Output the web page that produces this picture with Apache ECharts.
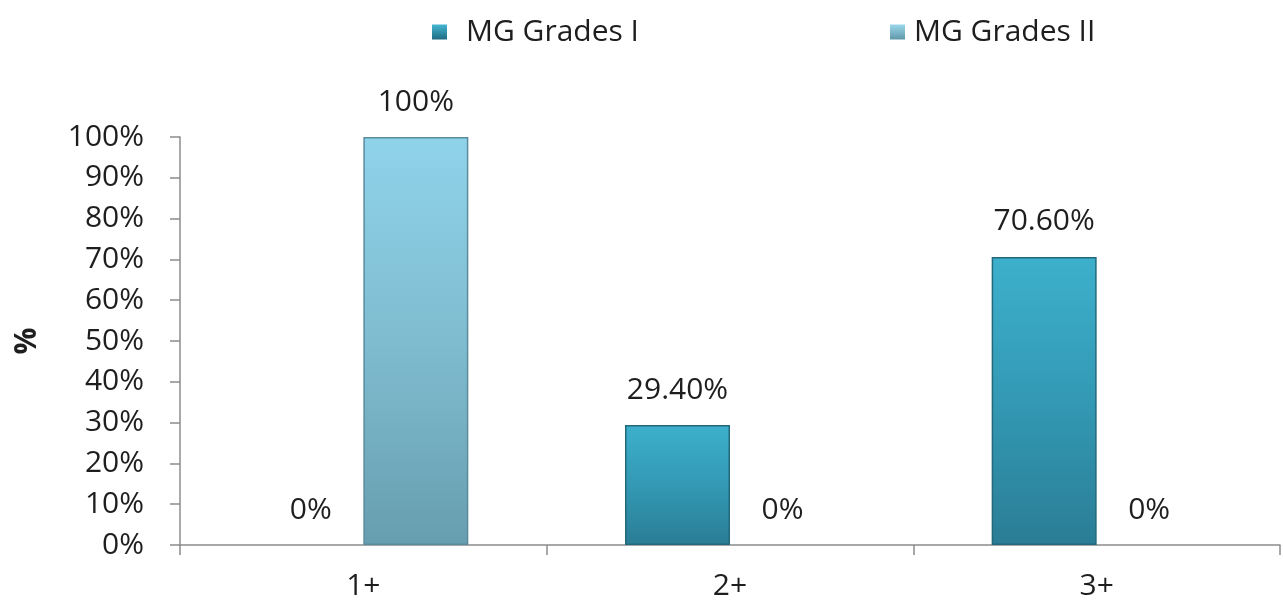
<!DOCTYPE html>
<html><head><meta charset="utf-8">
<script src="https://cdn.jsdelivr.net/npm/echarts@6/dist/echarts.min.js"></script>
<style>html,body{margin:0;padding:0;background:#fff}#c{width:1283px;height:605px}</style>
</head><body><div id="c"></div>
<script>
const categories = ['1+', '2+', '3+'];
const seriesNames = ['MG Grades I', 'MG Grades II'];
const gradesI = [0, 29.4, 70.6];
const gradesII = [100, 0, 0];
const labelsI = ['0%', '29.40%', '70.60%'];
const labelsII = ['100%', '0%', '0%'];
const yTicks = [0, 10, 20, 30, 40, 50, 60, 70, 80, 90, 100];

const FONT = '"Open Sans", "Noto Sans", sans-serif';
const TXT = '#1e1e1e';
const colI = {type:'linear',x:0,y:0,x2:0,y2:1,colorStops:[{offset:0,color:'#3db0cc'},{offset:0.5,color:'#3399b4'},{offset:1,color:'#2a7d95'}]};
const colII = {type:'linear',x:0,y:0,x2:0,y2:1,colorStops:[{offset:0,color:'#8fd3ea'},{offset:0.5,color:'#7fbcd0'},{offset:1,color:'#679eaf'}]};
const legI = {type:'linear',x:0,y:0,x2:0,y2:1,colorStops:[{offset:0,color:'#44b6d2'},{offset:1,color:'#1f6b82'}]};
const legII = {type:'linear',x:0,y:0,x2:0,y2:1,colorStops:[{offset:0,color:'#9bd8ec'},{offset:1,color:'#5f97a8'}]};

function items(vals, edge) {
  return vals.map(v => v === 0
    ? {value: v, itemStyle: {borderWidth: 0}}
    : {value: v, itemStyle: {borderWidth: 1.5, borderColor: edge}});
}

const chart = echarts.init(document.getElementById('c'), null, {renderer:'canvas'});
const labelStyle = (arr) => ({show:true, position:'top', distance:20, fontFamily:FONT, fontSize:30, lineHeight:30, color:TXT,
  formatter: p => arr[p.dataIndex]});
chart.setOption({
  animation:false,
  textStyle:{fontFamily:FONT},
  legend:[
    {data:[{name:seriesNames[0], itemStyle:{color:legI}}], left:427, top:12, itemWidth:15, itemHeight:15,
     textStyle:{fontSize:30, lineHeight:30, color:TXT, fontFamily:FONT, padding:[0,0,0,14]}, icon:'rect'},
    {data:[{name:seriesNames[1], itemStyle:{color:legII}}], left:885, top:12, itemWidth:15, itemHeight:15,
     textStyle:{fontSize:30, lineHeight:30, color:TXT, fontFamily:FONT, padding:[0,0,0,4]}, icon:'rect'}
  ],
  grid:{left:180, right:3, top:137, bottom:60, containLabel:false},
  xAxis:{type:'category', data:categories,
    axisLine:{lineStyle:{color:'#8c8c8c', width:1.5}},
    axisTick:{show:true, length:10, lineStyle:{color:'#8c8c8c', width:1.5}},
    axisLabel:{fontSize:30, lineHeight:30, color:TXT, margin:26, fontFamily:FONT}},
  yAxis:{type:'value', min:0, max:100, interval:10,
    name:'%', nameLocation:'middle', nameGap:138, nameRotate:90,
    nameTextStyle:{fontSize:30, fontWeight:'bold', color:TXT, fontFamily:FONT},
    axisLine:{show:true, lineStyle:{color:'#8c8c8c', width:1.5}},
    axisTick:{show:true, length:10, lineStyle:{color:'#8c8c8c', width:1.5}},
    splitLine:{show:false},
    axisLabel:{fontSize:30, color:TXT, margin:36, fontFamily:FONT,
      formatter: v => yTicks.includes(v) ? v + '%' : ''}},
  series:[
    {name:seriesNames[0], type:'bar', data:items(gradesI, '#23697e'), barWidth:105, barGap:'0%',
     itemStyle:{color:colI},
     label:labelStyle(labelsI)},
    {name:seriesNames[1], type:'bar', data:items(gradesII, '#5a8c9c'), barWidth:105,
     itemStyle:{color:colII},
     label:labelStyle(labelsII)}
  ]
});
</script></body></html>
